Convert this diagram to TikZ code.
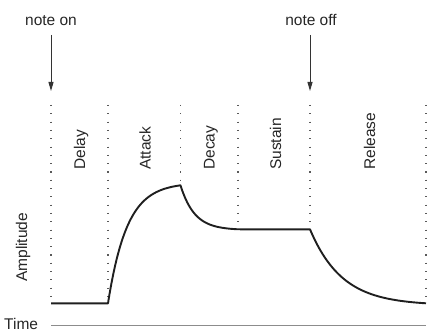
\documentclass[tikz,border=0pt]{standalone}
\usepackage{fontspec}
\setmainfont{Liberation Sans}
\usetikzlibrary{arrows.meta}
\tikzset{
  lbl/.style={inner sep=0pt, font=\fontsize{15.5}{18}\selectfont, text=black!85},
  phase/.style={lbl, rotate=90, anchor=base west},
  guide/.style={draw=black!65, line width=1.1pt, dash pattern=on 1.1pt off 7.2pt},
  env/.style={draw=black!88, line width=1.9pt, line join=round},
  marker/.style={draw=black!80, line width=1pt, -{Triangle[length=9pt,width=5pt]}},
  axis/.style={draw=black!45, line width=1.8pt}
}
\begin{document}
\begin{tikzpicture}[x=1pt,y=-1pt]
\useasboundingbox (0,0) rectangle (427,331);
% labels
\node[lbl, anchor=base] (non) at (51,26) {note on};
\node[lbl, anchor=base] (noff) at (311,26) {note off};
\coordinate (nonS) at (51,35);
\coordinate (nonE) at (51,91);
\coordinate (noffS) at (310,35);
\coordinate (noffE) at (310,91);
\draw[marker] (nonS) -- (nonE);
\draw[marker] (noffS) -- (noffE);
% guides
\coordinate (g1t) at (51,105);   \coordinate (g1b) at (51,300);
\coordinate (g2t) at (108,105);  \coordinate (g2b) at (108,300);
\coordinate (g3t) at (180.5,105);\coordinate (g3b) at (180.5,186);
\coordinate (g4t) at (238,105);  \coordinate (g4b) at (238,226);
\coordinate (g5t) at (310,105);  \coordinate (g5b) at (310,226);
\coordinate (g6t) at (426,105);  \coordinate (g6b) at (426,300);
\draw[guide] (g1t) -- (g1b);
\draw[guide] (g2t) -- (g2b);
\draw[guide] (g3t) -- (g3b);
\draw[guide] (g4t) -- (g4b);
\draw[guide] (g5t) -- (g5b);
\draw[guide] (g6t) -- (g6b);
% phase labels
\node[phase] (delay) at (85,170) {Delay};
\node[phase] (attack) at (150.5,170) {Attack};
\node[phase] (decay) at (214.5,170) {Decay};
\node[phase] (sustain) at (281,170) {Sustain};
\node[phase] (release) at (375,170) {Release};
\node[phase] (amp) at (27,282) {Amplitude};
\node[lbl, anchor=base west] (time) at (4,329.3) {Time};
% axis
\coordinate (ax0) at (51,325.5);
\coordinate (ax1) at (426,325.5);
\draw[axis] (ax0) -- (ax1);
% envelope
\coordinate (e0) at (51,303.3);
\coordinate (e1) at (108,303.3);
\coordinate (e4) at (310,229.3);
\draw[env] (e0) -- (e1)
  -- plot[domain=0:72.5, samples=80] ({108+\x}, {303.3-118*(1-exp(-\x/19))/(1-exp(-72.5/19))})
  -- plot[domain=0:57.5, samples=60] ({180.5+\x}, {185.3+44*(1-exp(-\x/14))/(1-exp(-57.5/14))})
  -- (e4)
  -- plot[domain=0:116, samples=80] ({310+\x}, {229.3+74*(1-exp(-\x/32))/(1-exp(-116/32))});
\end{tikzpicture}
\end{document}
